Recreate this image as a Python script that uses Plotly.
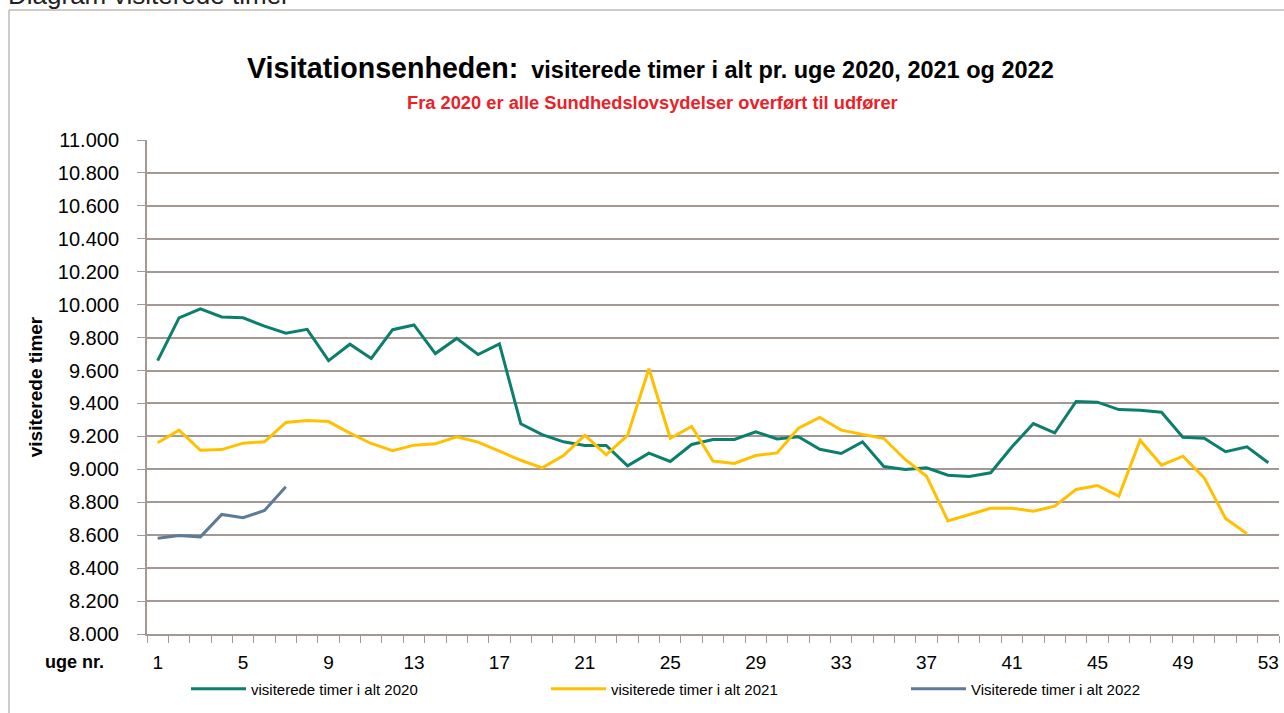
import plotly.graph_objects as go

# ---------------- data ----------------
weeks = list(range(1, 54))
tick_weeks = [1, 5, 9, 13, 17, 21, 25, 29, 33, 37, 41, 45, 49, 53]

hours_2020 = [9660, 9920, 9975, 9925, 9920, 9870, 9827, 9850, 9660, 9760,
              9673, 9848, 9877, 9703, 9795, 9697, 9762, 9277, 9211, 9167,
              9145, 9145, 9021, 9098, 9048, 9151, 9181, 9181, 9228, 9185,
              9198, 9122, 9096, 9167, 9017, 8999, 9009, 8964, 8956, 8979,
              9137, 9278, 9222, 9412, 9408, 9363, 9359, 9347, 9195, 9189,
              9107, 9137, 9040]
hours_2021 = [9161, 9238, 9116, 9120, 9159, 9167, 9285, 9297, 9290, 9220,
              9157, 9113, 9147, 9155, 9198, 9165, 9110, 9055, 9009, 9084,
              9206, 9088, 9206, 9611, 9189, 9260, 9050, 9036, 9084, 9100,
              9250, 9315, 9238, 9212, 9187, 9060, 8958, 8687, 8726, 8764,
              8764, 8746, 8776, 8878, 8902, 8837, 9177, 9025, 9080, 8948,
              8702, 8609]
hours_2022 = [8582, 8598, 8590, 8726, 8706, 8750, 8894]

series_names = ["visiterede timer i alt 2020", "visiterede timer i alt 2021",
                "Visiterede timer i alt 2022"]
series_colors = ["#0b7f6b", "#ffc000", "#5d7b99"]

# ---------------- layout geometry ----------------
W, H = 1284, 713
L, R, T, B = 147, 5, 140, 79
PW, PH = W - L - R, H - T - B
GRID = "#a39894"
FONT = "Liberation Sans, Arial, sans-serif"


def px_x(px):
    return (px - L) / PW


def px_y(py):
    return (H - B - py) / PH


fig = go.Figure()
for vals, name, col in zip([hours_2020, hours_2021, hours_2022], series_names, series_colors):
    fig.add_trace(go.Scatter(
        x=weeks[:len(vals)], y=vals, name=name, mode="lines",
        line=dict(color=col, width=3),
    ))

boundaries = [w - 0.5 for w in weeks] + [weeks[-1] + 0.5]

fig.update_layout(
    width=W, height=H,
    margin=dict(l=L, r=R, t=T, b=B, autoexpand=False),
    paper_bgcolor="white", plot_bgcolor="white",
    separators=",.",
    font=dict(family=FONT, color="black", size=18),
    showlegend=True,
    legend=dict(orientation="h", x=px_x(186), xanchor="left",
                y=px_y(689), yanchor="middle",
                bgcolor="rgba(0,0,0,0)",
                font=dict(size=15, family=FONT),
                entrywidth=290, entrywidthmode="pixels",
                itemwidth=55, tracegroupgap=0),
    xaxis=dict(
        range=[0.5, 53.5], showgrid=False, zeroline=False, automargin=False,
        showline=True, linecolor=GRID, linewidth=2,
        tickmode="array", tickvals=tick_weeks, ticks="",
        ticklabelstandoff=10,
        tickfont=dict(size=19, family=FONT),
        minor=dict(tickmode="array", tickvals=boundaries, ticks="outside",
                   ticklen=7, tickcolor=GRID, tickwidth=1, showgrid=False),
    ),
    yaxis=dict(
        range=[8000, 11000], dtick=200, tick0=8000, tickformat=",d",
        automargin=False,
        showgrid=True, gridcolor=GRID, gridwidth=1.5, zeroline=False,
        showline=True, linecolor=GRID, linewidth=2,
        ticks="outside", ticklen=8, tickcolor=GRID,
        ticklabelstandoff=14,
        tickfont=dict(size=20, family=FONT),
        title=dict(text="<b>visiterede timer</b>", standoff=10,
                   font=dict(size=19, family=FONT)),
    ),
    annotations=[
        dict(text="Diagram visiterede timer", xref="paper", yref="paper",
             x=px_x(6), y=px_y(12), xanchor="left", yanchor="bottom",
             showarrow=False, font=dict(size=26, family=FONT, color="#222")),
        dict(text="<b><span style='font-size:28.6px'>Visitationsenheden:</span>  visiterede timer i alt pr. uge 2020, 2021 og 2022</b>",
             xref="paper", yref="paper", x=px_x(650), y=px_y(68),
             xanchor="center", yanchor="middle", showarrow=False,
             font=dict(size=23.5, family=FONT, color="black")),
        dict(text="<b>Fra 2020 er alle Sundhedslovsydelser overført til udfører</b>",
             xref="paper", yref="paper", x=px_x(652), y=px_y(103),
             xanchor="center", yanchor="middle", showarrow=False,
             font=dict(size=18.3, family=FONT, color="#ec2128")),
        dict(text="<b>uge nr.</b>", xref="paper", yref="paper",
             x=px_x(106), y=px_y(662), xanchor="right", yanchor="middle",
             showarrow=False, font=dict(size=18, family=FONT)),
    ],
    shapes=[
        dict(type="rect", xref="paper", yref="paper",
             x0=px_x(9), x1=px_x(1300), y0=px_y(730), y1=px_y(10),
             line=dict(color="#a39894", width=1), layer="below"),
    ],
)

fig.write_html(
    "out.html",
    config={"displayModeBar": False},
    post_script="document.body.style.margin='0px';",
)
